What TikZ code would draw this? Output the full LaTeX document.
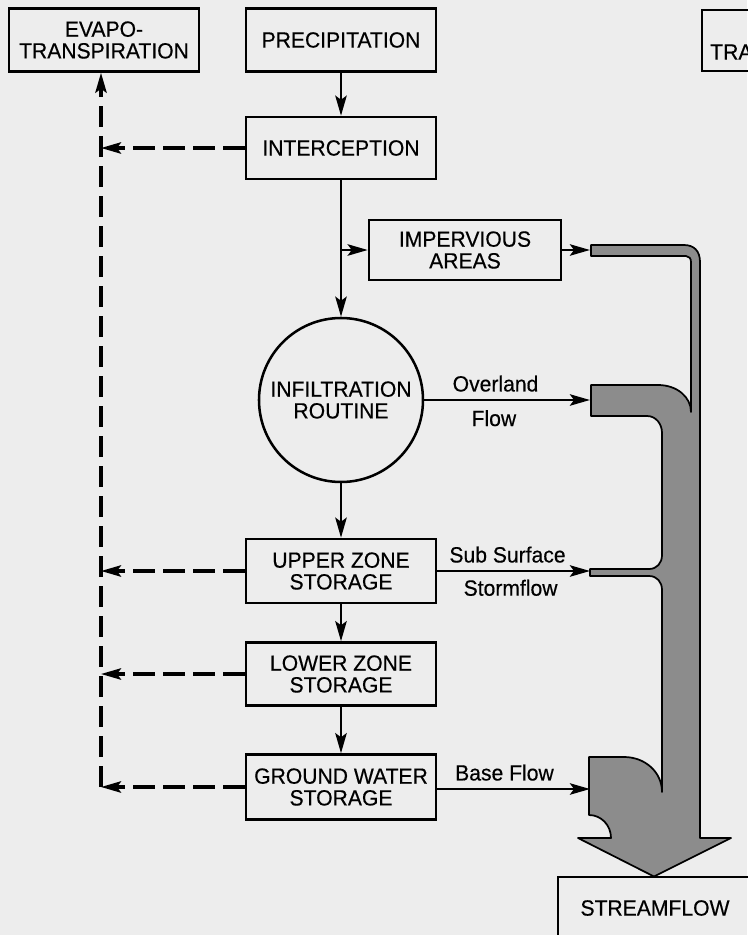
\documentclass[tikz,border=0pt]{standalone}
\usepackage{fontspec}
\setmainfont{Liberation Sans}[FakeStretch=0.96, FakeBold=0.4]
\usepackage{xcolor}
\usepackage{tikz}
\usetikzlibrary{arrows.meta,positioning,calc}

\definecolor{paper}{gray}{0.93}
\definecolor{channel}{gray}{0.55}
\newcommand{\lettering}{\fontsize{16.5}{16.3}\selectfont}

\begin{document}
\begin{tikzpicture}[
    x=0.75pt, y=-0.75pt,
    box/.style={draw, line width=1.9pt, minimum width=142.5pt, minimum height=47.25pt, inner sep=0pt, align=center, font=\lettering},
    flow_label/.style={font=\lettering, inner sep=0pt},
    flow/.style={-{Stealth[length=15pt, width=8.5pt, inset=3pt]}, line width=2.1pt},
    loss/.style={flow, line width=2.5pt, dash pattern=on 16pt off 6.5pt},
    pipe/.style={draw, line width=1.3pt, fill=channel, line join=round}
]
    \fill[paper] (0,0) rectangle (747,935);
    \useasboundingbox (0,0) rectangle (747,935);

    % Main column
    \node[box] (evapo) at (104,40) {EVAPO-\\TRANSPIRATION};
    \node[box] (precip) at (341,40) {PRECIPITATION};
    \node[box, minimum height=46.5pt] (intercept) at (341,148) {INTERCEPTION};
    \node[box, minimum width=144pt, minimum height=45pt] (imperv) at (465,250) {IMPERVIOUS\\AREAS};
    \node[draw, circle, line width=1.9pt, minimum size=123pt, inner sep=0pt, align=center, font=\lettering] (infil) at (341,400) {INFILTRATION\\ROUTINE};
    \node[box, minimum height=48pt] (upper) at (341,571) {UPPER ZONE\\STORAGE};
    \node[box] (lower) at (341,674) {LOWER ZONE\\STORAGE};
    \node[box, minimum height=48.75pt] (ground) at (341,787) {GROUND WATER\\STORAGE};

    % Boxes cut by the edge
    \draw[line width=1.9pt] (702,10) rectangle (790,71);
    \node[flow_label, anchor=west] (transp) at (710,52) {TRA};
    \draw[line width=1.9pt] (558,877) rectangle (790,990);
    \node[flow_label] (stream) at (655,908) {STREAMFLOW};

    % Channel to streamflow
    \draw[pipe] (591,245) -- (684,245) .. controls (694,245) and (700,251) .. (700,262)
        -- (700,838) -- (731,838) -- (654,876.5) -- (578,838) -- (611,838)
        .. controls (611,825) and (601,815) .. (589,815) -- (589,757) -- (624,757)
        .. controls (645,757) and (662,772) .. (662,792) -- (662,590)
        .. controls (662,582) and (657,576) .. (649,576) -- (590,576) -- (590,569)
        -- (649,569) .. controls (657,569) and (662,563) .. (662,555) -- (662,433)
        .. controls (662,424) and (656,416) .. (647,416) -- (591,416) -- (591,385)
        -- (658,385) .. controls (677,385) and (691,397) .. (691,412) -- (691,262)
        .. controls (691,258.5) and (689,256) .. (686,256) -- (591,256) -- cycle;
    \coordinate (inlet) at (590,0);

    % Vertical flow
    \draw[flow] (precip) -- (intercept);
    \draw[flow] (intercept) -- (infil);
    \draw[flow] (infil) -- (upper);
    \draw[flow] (upper) -- (lower);
    \draw[flow] (lower) -- (ground);
    \coordinate (branch) at (intercept.south |- imperv);
    \draw[flow] (branch) -- (imperv);

    % Flow into channel
    \draw[flow] (imperv) -- (imperv -| inlet);
    \draw[flow] (infil) -- node[flow_label, pos=0.43, above=5.2pt] {Overland}
        node[flow_label, pos=0.42, below=6.5pt] {Flow} (infil -| inlet);
    \draw[flow] (upper) -- node[flow_label, pos=0.46, above=5.2pt] {Sub Surface}
        node[flow_label, pos=0.48, below=5.5pt] {Stormflow} (upper -| inlet);
    \draw[flow] ($(ground.east)+(0,2)$) -- node[flow_label, pos=0.44, above=5.2pt] {Base Flow} ($(ground.east -| inlet)+(0,2)$);

    % Evapotranspiration losses
    \coordinate (et) at (101,787);
    \draw[loss] (intercept) -- (intercept -| et);
    \draw[loss] (upper) -- (upper -| et);
    \draw[loss] (lower) -- (lower -| et);
    \draw[loss] (ground) -- (et);
    \draw[loss] (et) -- (et |- evapo.south);
\end{tikzpicture}
\end{document}
